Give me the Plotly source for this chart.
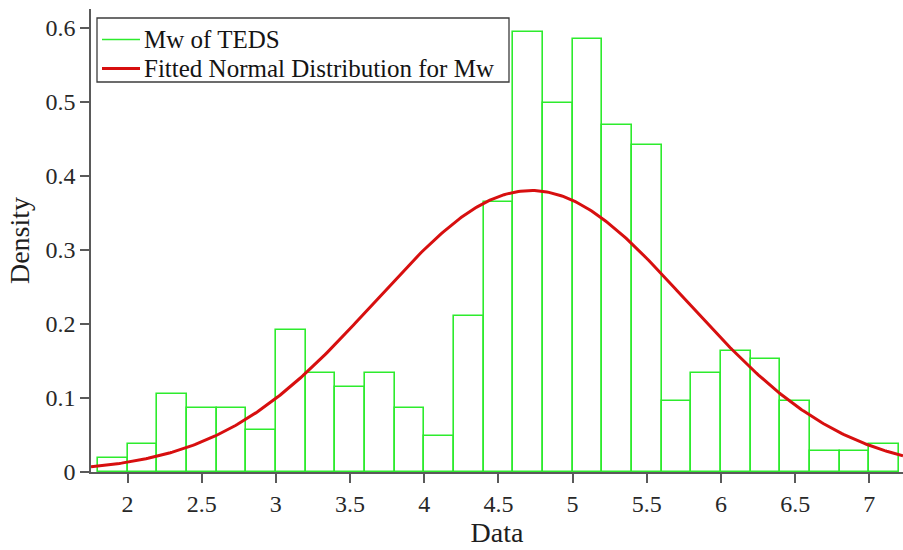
import numpy as np
import plotly.graph_objects as go

# Histogram of Mw (bin width 0.2, normalised to density)
bin_edges_left = [1.8, 2.0, 2.2, 2.4, 2.6, 2.8, 3.0, 3.2, 3.4, 3.6, 3.8, 4.0, 4.2, 4.4,
                  4.6, 4.8, 5.0, 5.2, 5.4, 5.6, 5.8, 6.0, 6.2, 6.4, 6.6, 6.8, 7.0]
density = [0.019, 0.038, 0.105, 0.086, 0.086, 0.057, 0.192, 0.134, 0.115, 0.134,
           0.086, 0.048, 0.211, 0.364, 0.594, 0.498, 0.584, 0.469, 0.441, 0.096,
           0.134, 0.163, 0.153, 0.096, 0.029, 0.029, 0.038]
bin_width = 0.2

# Fitted normal distribution parameters
mu = 4.72
sigma = 1.05

x_ticks = [2, 2.5, 3, 3.5, 4, 4.5, 5, 5.5, 6, 6.5, 7]
x_tick_text = ["2", "2.5", "3", "3.5", "4", "4.5", "5", "5.5", "6", "6.5", "7"]
y_ticks = [0, 0.1, 0.2, 0.3, 0.4, 0.5, 0.6]
y_tick_text = ["0", "0.1", "0.2", "0.3", "0.4", "0.5", "0.6"]

legend_labels = ["Mw of TEDS", "Fitted Normal Distribution for Mw"]

x_range = [1.754, 7.227]
y_range = [0, 0.625]

GREEN = "rgb(45,235,45)"
RED = "rgb(215,15,15)"
AXIS = "rgb(90,90,90)"
FONT = "Liberation Serif, Times New Roman, DejaVu Serif, serif"

W, H = 903, 550
M_L, M_R, M_T, M_B = 91, 0, 9, 78
PW, PH = W - M_L - M_R, H - M_T - M_B


def px_x(px):
    """pixel column -> paper x"""
    return (px - M_L) / PW


def px_y(py):
    """pixel row -> paper y"""
    return (H - M_B - py) / PH


centers = [e + bin_width / 2 for e in bin_edges_left]
xs = np.linspace(x_range[0], x_range[1], 400)
pdf = np.exp(-0.5 * ((xs - mu) / sigma) ** 2) / (sigma * np.sqrt(2 * np.pi))

fig = go.Figure()
fig.add_trace(go.Bar(
    x=centers, y=density, width=bin_width,
    marker=dict(color="rgba(255,255,255,0)", line=dict(color=GREEN, width=1.6)),
    showlegend=False, hoverinfo="skip",
))
fig.add_trace(go.Scatter(x=xs, y=pdf, mode="lines", showlegend=False,
                         line=dict(color=RED, width=3), hoverinfo="skip"))

fig.update_layout(
    width=W, height=H,
    margin=dict(l=M_L, r=M_R, t=M_T, b=M_B),
    plot_bgcolor="white", paper_bgcolor="white",
    font=dict(family=FONT, color="rgb(30,30,30)"),
    bargap=0,
    showlegend=False,
    xaxis=dict(
        range=x_range, tickmode="array", tickvals=x_ticks, ticktext=x_tick_text,
        showgrid=False, zeroline=False, showline=True, linecolor=AXIS, linewidth=1.5,
        ticks="outside", ticklen=9, tickwidth=1.5, tickcolor=AXIS,
        tickfont=dict(family=FONT, size=24, color="rgb(40,40,40)"),
        title=dict(text="Data", font=dict(family=FONT, size=28, color="rgb(30,30,30)"), standoff=4),
    ),
    yaxis=dict(
        range=y_range, tickmode="array", tickvals=y_ticks, ticktext=y_tick_text,
        showgrid=False, zeroline=False, showline=True, linecolor=AXIS, linewidth=1.5,
        ticks="outside", ticklen=9, tickwidth=1.5, tickcolor=AXIS,
        tickfont=dict(family=FONT, size=24, color="rgb(40,40,40)"),
        title=dict(text="Density", font=dict(family=FONT, size=28, color="rgb(30,30,30)"), standoff=8),
    ),
)

# short extension of the x axis line to the left of the y axis
fig.add_shape(type="line", xref="paper", yref="y", x0=-0.011, x1=0, y0=0, y1=0,
              line=dict(color=AXIS, width=1.5))

# legend: framed box with line samples and labels
fig.add_shape(type="rect", xref="paper", yref="paper",
              x0=px_x(97), x1=px_x(509), y0=px_y(82), y1=px_y(18),
              line=dict(color="rgb(60,60,60)", width=1.3), fillcolor="white", layer="above")
for row, (label, color, lw) in enumerate(zip(legend_labels, [GREEN, RED], [1.6, 3])):
    cy = 39.5 + row * 29
    fig.add_shape(type="line", xref="paper", yref="paper",
                  x0=px_x(102), x1=px_x(140), y0=px_y(cy), y1=px_y(cy),
                  line=dict(color=color, width=lw), layer="above")
    fig.add_annotation(text=label, xref="paper", yref="paper",
                       x=px_x(142), y=px_y(cy), xanchor="left", yanchor="middle",
                       showarrow=False,
                       font=dict(family=FONT, size=25, color="rgb(20,20,20)"))

fig.write_html("out.html")
